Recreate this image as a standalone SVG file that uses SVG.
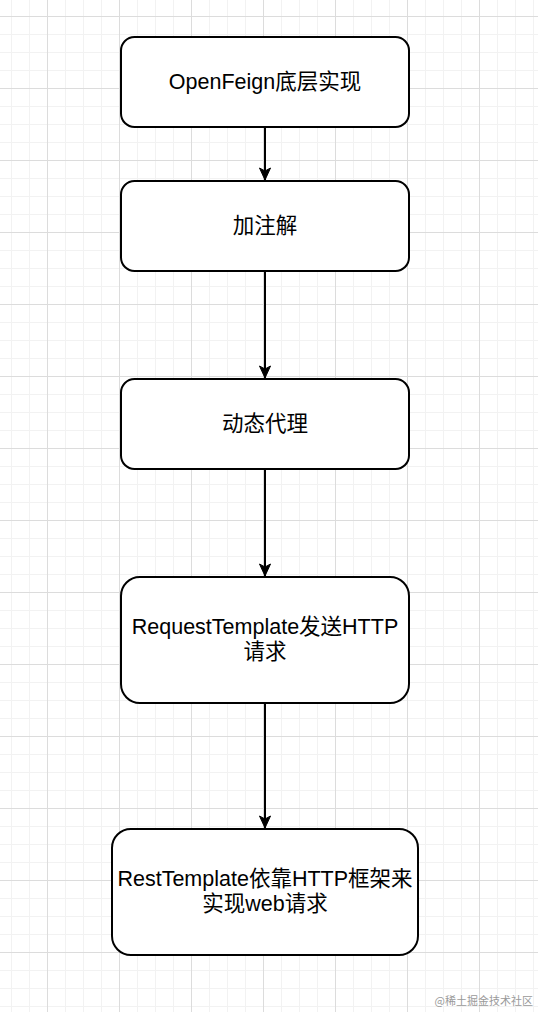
<svg xmlns="http://www.w3.org/2000/svg" width="538" height="1012" viewBox="0 0 538 1012">
<style>
.box{fill:#ffffff;stroke:#000000;stroke-width:2}
.lbl{font-family:"Liberation Sans","Noto Sans CJK SC",sans-serif;font-size:21.5px;fill:#000000;text-anchor:middle}
.edge{stroke:#000000;stroke-width:2;fill:none}
.wm{font-family:"Noto Sans CJK SC",sans-serif;font-size:11px;fill:#9a9a9a;text-anchor:end}
</style>
<defs>
<pattern id="minor" patternUnits="userSpaceOnUse" x="11" y="16" width="18" height="18">
<path d="M0 0.5H18M0.5 0V18" stroke="#f2f2f2" stroke-width="1" fill="none"/>
</pattern>
<pattern id="major" patternUnits="userSpaceOnUse" x="47" y="16" width="72" height="72">
<path d="M0 0.5H72M0.5 0V72" stroke="#dcdcdc" stroke-width="1" fill="none"/>
</pattern>
<marker id="arr" markerUnits="userSpaceOnUse" markerWidth="14" markerHeight="14" viewBox="0 0 14 14" refX="13" refY="7" orient="auto">
<path d="M1 1.5L13 7L1 12.5L4 7Z" fill="#000000" stroke="#000000" stroke-width="1"/>
</marker>
</defs>
<rect width="538" height="1012" fill="#ffffff"/>
<rect width="538" height="1012" fill="url(#minor)"/>
<rect width="538" height="1012" fill="url(#major)"/>
<g id="connectors">
<path class="edge" d="M265 127V180" marker-end="url(#arr)"/>
<path class="edge" d="M265 271V378" marker-end="url(#arr)"/>
<path class="edge" d="M265 469V576" marker-end="url(#arr)"/>
<path class="edge" d="M265 703V828" marker-end="url(#arr)"/>
</g>
<g id="n1">
<rect class="box" x="121" y="37" width="288" height="90" rx="13.5"/>
<text class="lbl" x="265" y="89">OpenFeign底层实现</text>
</g>
<g id="n2">
<rect class="box" x="121" y="181" width="288" height="90" rx="13.5"/>
<text class="lbl" x="265" y="233">加注解</text>
</g>
<g id="n3">
<rect class="box" x="121" y="379" width="288" height="90" rx="13.5"/>
<text class="lbl" x="265" y="431">动态代理</text>
</g>
<g id="n4">
<rect class="box" x="121" y="577" width="288" height="126" rx="18.9"/>
<text class="lbl" x="265" y="634">RequestTemplate发送HTTP</text>
<text class="lbl" x="265" y="659">请求</text>
</g>
<g id="n5">
<rect class="box" x="112" y="829" width="306" height="126" rx="18.9"/>
<text class="lbl" x="265" y="886">RestTemplate依靠HTTP框架来</text>
<text class="lbl" x="265" y="911">实现web请求</text>
</g>
<text class="wm" x="533" y="1005">@稀土掘金技术社区</text>
</svg>
